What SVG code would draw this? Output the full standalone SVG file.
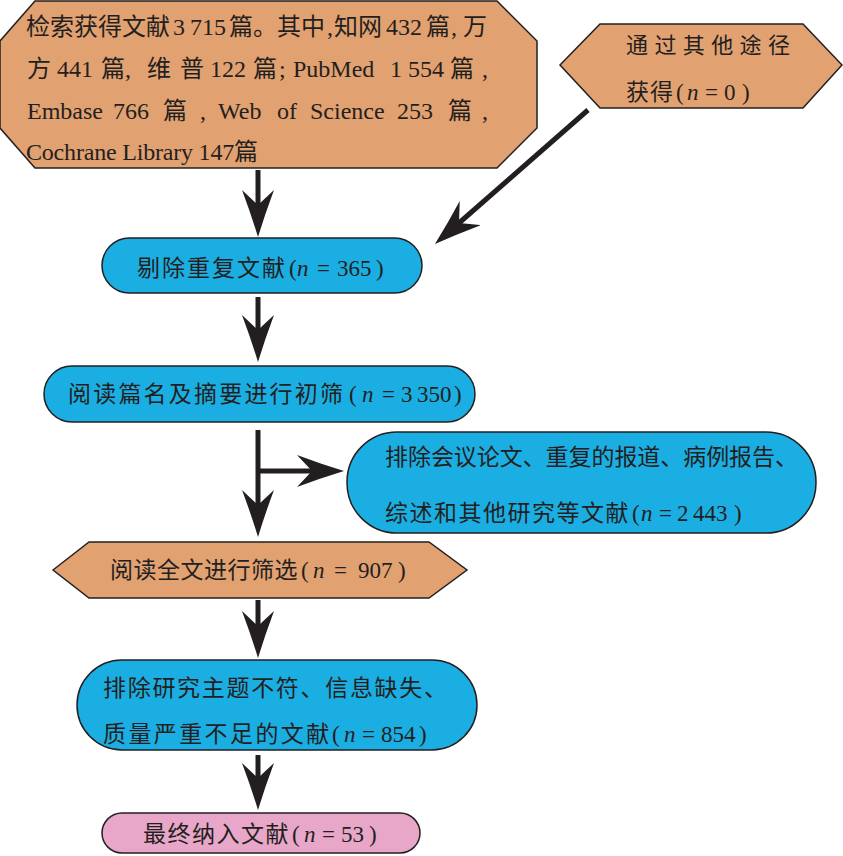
<svg xmlns="http://www.w3.org/2000/svg" width="843" height="856" viewBox="0 0 843 856">
<style>
.o{fill:#E2A170;stroke:#231F20;stroke-width:1.5}
.b{fill:#1AAEE3;stroke:#231F20;stroke-width:1.5}
.p{fill:#E8A7C8;stroke:#231F20;stroke-width:1.5}
text{font-family:"Liberation Serif","Noto Sans CJK SC",serif;fill:#231F20}
.t24{font-size:24px}
.t23{font-size:23px}
.t22{font-size:22px}
.i{font-style:italic}
.c{fill:none;stroke:#231F20;stroke-width:5;marker-end:url(#ah)}
</style>
<defs>
<marker id="ah" markerUnits="userSpaceOnUse" viewBox="0 0 50 34" markerWidth="50" markerHeight="34" refX="15" refY="16" orient="auto">
<path d="M0,0 Q24,9 47,16 Q24,23 0,32 L15,16 Z" fill="#231F20"/>
</marker>
</defs>
<rect width="843" height="856" fill="#FFFFFF"/>

<g id="connectors">
<line class="c" x1="258" y1="170" x2="258" y2="205"/>
<line class="c" x1="588" y1="110" x2="459" y2="223"/>
<line class="c" x1="258" y1="297" x2="258" y2="330"/>
<line class="c" x1="258" y1="430" x2="258" y2="505"/>
<line class="c" x1="258" y1="471" x2="312" y2="471"/>
<line class="c" x1="258" y1="600" x2="258" y2="626"/>
<line class="c" x1="258" y1="755" x2="258" y2="778"/>
</g>

<g id="search">
<polygon class="o" points="35,1 497,1 537,41 537,128 497,168 35,168 0,128 0,41"/>
<text class="t24" y="35"><tspan x="26">检索获得文献</tspan><tspan x="173">3</tspan><tspan x="190">715</tspan><tspan x="229">篇。其中</tspan><tspan x="327">,</tspan><tspan x="334">知网</tspan><tspan x="386">432</tspan><tspan x="426">篇</tspan><tspan x="451">,</tspan><tspan x="463">万</tspan></text>
<text class="t24" y="77"><tspan x="27">方</tspan><tspan x="57">441</tspan><tspan x="101">篇</tspan><tspan x="125">,</tspan><tspan x="147">维</tspan><tspan x="180">普</tspan><tspan x="210">122</tspan><tspan x="253">篇</tspan><tspan x="279">;</tspan><tspan x="293">PubMed</tspan><tspan x="390">1 554</tspan><tspan x="450">篇</tspan><tspan x="482">,</tspan></text>
<text class="t24" y="119"><tspan x="27">Embase</tspan><tspan x="113">766</tspan><tspan x="163">篇</tspan><tspan x="200">,</tspan><tspan x="218">Web</tspan><tspan x="277">of</tspan><tspan x="310">Science</tspan><tspan x="397">253</tspan><tspan x="448">篇</tspan><tspan x="482">,</tspan></text>
<text class="t24" x="26" y="160" textLength="232" lengthAdjust="spacing">Cochrane Library 147篇</text>
</g>

<g id="other">
<polygon class="o" points="560,65 600,24 803,24 842,65 803,108 600,108"/>
<text class="t22" x="626" y="53" textLength="164" lengthAdjust="spacing">通过其他途径</text>
<text class="t23" y="100"><tspan x="626" letter-spacing="1">获得</tspan><tspan x="676">(</tspan><tspan x="687" class="i">n</tspan><tspan x="705">=</tspan><tspan x="724">0</tspan><tspan x="742">)</tspan></text>
</g>

<g id="dedup">
<rect class="b" x="102" y="238" width="320" height="55" rx="27.5"/>
<text class="t23" y="276"><tspan x="137" letter-spacing="2">剔除重复文献</tspan><tspan x="289">(</tspan><tspan x="297" class="i">n</tspan><tspan x="317">=</tspan><tspan x="337">365</tspan><tspan x="376">)</tspan></text>
</g>

<g id="screen">
<rect class="b" x="44" y="366" width="431" height="56" rx="28"/>
<text class="t23" y="402"><tspan x="68" letter-spacing="2.2">阅读篇名及摘要进行初筛</tspan><tspan x="349">(</tspan><tspan x="362" class="i">n</tspan><tspan x="382">=</tspan><tspan x="401">3</tspan><tspan x="417">350</tspan><tspan x="454">)</tspan></text>
</g>

<g id="exclude1">
<rect class="b" x="347" y="432" width="469" height="101" rx="50"/>
<text class="t23" x="385" y="465" textLength="413" lengthAdjust="spacing">排除会议论文、重复的报道、病例报告、</text>
<text class="t23" y="521"><tspan x="385" letter-spacing="1.5">综述和其他研究等文献</tspan><tspan x="632">(</tspan><tspan x="641" class="i">n</tspan><tspan x="659">=</tspan><tspan x="677">2</tspan><tspan x="693">443</tspan><tspan x="734">)</tspan></text>
</g>

<g id="fulltext">
<polygon class="o" points="53,570 89,542 429,542 467,570 429,598 89,598"/>
<text class="t23" y="578"><tspan x="110" letter-spacing="0.5">阅读全文进行筛选</tspan><tspan x="301">(</tspan><tspan x="313" class="i">n</tspan><tspan x="334">=</tspan><tspan x="358">907</tspan><tspan x="398">)</tspan></text>
</g>

<g id="exclude2">
<rect class="b" x="77" y="660" width="400" height="90" rx="45"/>
<text class="t23" x="103" y="696" textLength="344" lengthAdjust="spacing">排除研究主题不符、信息缺失、</text>
<text class="t23" y="742"><tspan x="103" letter-spacing="2.4">质量严重不足的文献</tspan><tspan x="332">(</tspan><tspan x="344" class="i">n</tspan><tspan x="362">=</tspan><tspan x="381">854</tspan><tspan x="419">)</tspan></text>
</g>

<g id="final">
<rect class="p" x="102" y="813" width="318" height="40" rx="20"/>
<text class="t23" y="842"><tspan x="143" letter-spacing="1.5">最终纳入文献</tspan><tspan x="292">(</tspan><tspan x="304" class="i">n</tspan><tspan x="322">=</tspan><tspan x="341">53</tspan><tspan x="369">)</tspan></text>
</g>
</svg>
